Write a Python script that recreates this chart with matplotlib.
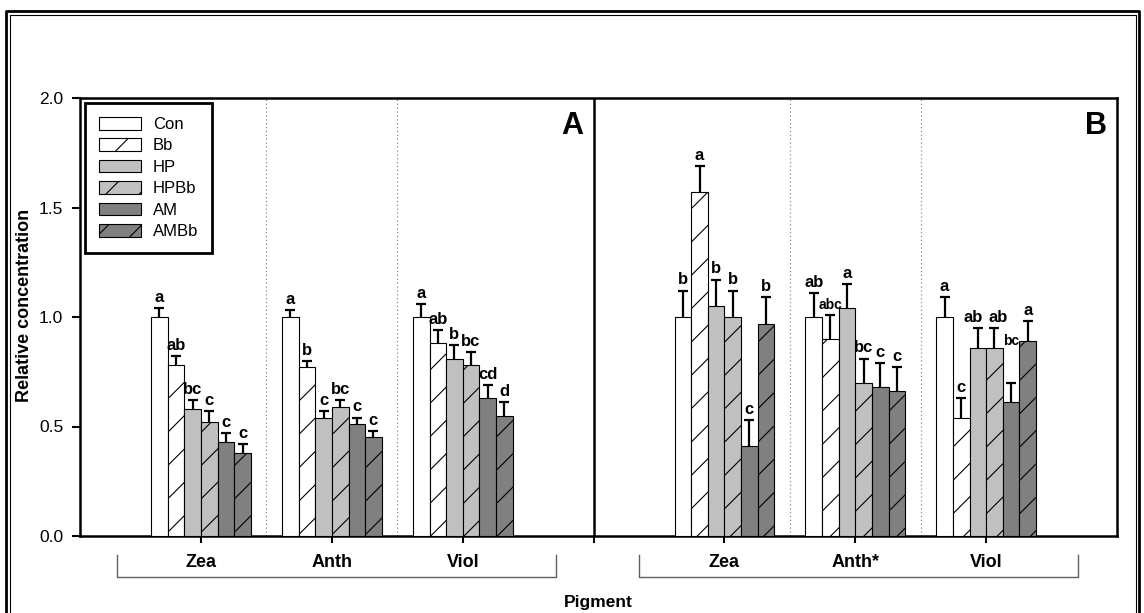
import matplotlib.pyplot as plt
from matplotlib.lines import Line2D
import numpy as np

plt.rcParams['font.family'] = ['Liberation Sans', 'DejaVu Sans']
plt.rcParams['hatch.linewidth'] = 0.8

# pigment groups (A: 1-3, B: 5-7)
categories = ['Zea', 'Anth', 'Viol', 'Zea', 'Anth*', 'Viol']
group_x = [1, 2, 3, 5, 6, 7]
treatments = ['Con', 'Bb', 'HP', 'HPBb', 'AM', 'AMBb']

con = [1.00, 1.00, 1.00, 1.00, 1.00, 1.00]
bb = [0.78, 0.77, 0.88, 1.57, 0.90, 0.54]
hp = [0.58, 0.54, 0.81, 1.05, 1.04, 0.86]
hpbb = [0.52, 0.59, 0.78, 1.00, 0.70, 0.86]
am = [0.43, 0.51, 0.63, 0.41, 0.68, 0.61]
ambb = [0.38, 0.45, 0.55, 0.97, 0.66, 0.89]

con_err = [0.04, 0.03, 0.06, 0.12, 0.11, 0.09]
bb_err = [0.04, 0.03, 0.06, 0.12, 0.11, 0.09]
hp_err = [0.04, 0.03, 0.06, 0.12, 0.11, 0.09]
hpbb_err = [0.05, 0.03, 0.06, 0.12, 0.11, 0.09]
am_err = [0.04, 0.03, 0.06, 0.12, 0.11, 0.09]
ambb_err = [0.04, 0.03, 0.06, 0.12, 0.11, 0.09]

con_let = ['a', 'a', 'a', 'b', 'ab', 'a']
bb_let = ['ab', 'b', 'ab', 'a', 'abc', 'c']
hp_let = ['bc', 'c', 'b', 'b', 'a', 'ab']
hpbb_let = ['c', 'bc', 'bc', 'b', 'bc', 'ab']
am_let = ['c', 'c', 'cd', 'c', 'c', 'bc']
ambb_let = ['c', 'c', 'd', 'b', 'c', 'a']

values = [con, bb, hp, hpbb, am, ambb]
errs = [con_err, bb_err, hp_err, hpbb_err, am_err, ambb_err]
letters = [con_let, bb_let, hp_let, hpbb_let, am_let, ambb_let]
colors = ['white', 'white', '#c0c0c0', '#c0c0c0', '#808080', '#808080']
hatches = [None, '/', None, '/', None, '/']

W, H = 1144, 613
fig = plt.figure(figsize=(W / 100, H / 100), dpi=100)
ax = fig.add_axes([80 / W, 77 / H, 1037 / W, 438 / H])

w = 0.127
x = np.array(group_x, dtype=float)
for i, name in enumerate(treatments):
    xs = x + (i - 2.5) * w
    ax.bar(xs, values[i], w, color=colors[i], edgecolor='black', hatch=hatches[i],
           linewidth=0.8, label=name, zorder=3)
    ax.errorbar(xs, values[i], yerr=errs[i], fmt='none', ecolor='black',
                elinewidth=1.6, capsize=3.4, capthick=1.6, zorder=2)
    for j in range(len(xs)):
        top = values[i][j] + errs[i][j] + 0.015
        lx = xs[j]
        fs = 12
        if (i, j) in [(1, 4), (4, 5)]:
            fs = 10
        if (i, j) == (4, 5):
            top = 0.86
        # the two "ab" over Viol (B) sit a little apart
        if (i, j) == (2, 5):
            lx -= 0.035
        if (i, j) == (3, 5):
            lx += 0.03
        ax.text(lx, top, letters[i][j], ha='center', va='bottom',
                fontsize=fs, fontweight='bold', zorder=5)

# dotted separators and panel divider
for xv in [1.5, 2.5, 5.5, 6.5]:
    ax.axvline(xv, color='#777777', ls=(0, (1, 2.5)), lw=0.8, zorder=1)
ax.axvline(4, color='black', lw=1.8, zorder=4)

ax.text(3.92, 1.94, 'A', ha='right', va='top', fontsize=22, fontweight='bold')
ax.text(7.92, 1.94, 'B', ha='right', va='top', fontsize=22, fontweight='bold')

ax.set_xlim(0.075, 8.0)
ax.set_ylim(0, 2.0)
ax.set_yticks([0.0, 0.5, 1.0, 1.5, 2.0])
ax.set_yticklabels(['0.0', '0.5', '1.0', '1.5', '2.0'])
ax.set_xticks([1, 2, 3, 4, 5, 6, 7])
ax.set_xticklabels([])
ax.tick_params(axis='y', direction='out', length=6, width=1.5, pad=6, labelsize=12.5)
ax.tick_params(axis='x', direction='out', length=5, width=1.5)
for s in ax.spines.values():
    s.set_linewidth(1.8)

for cx, lab in zip(group_x, categories):
    ax.text(cx, -0.119, lab, ha='center', va='center', fontsize=13,
            fontweight='bold', clip_on=False)

# brackets under each panel
for x0, x1 in [(0.358, 3.713), (4.347, 7.702)]:
    ax.plot([x0, x0, x1, x1], [-0.087, -0.187, -0.187, -0.087], color='#606060',
            lw=1.0, clip_on=False)

leg = ax.legend(loc='upper left', bbox_to_anchor=(0.005, 0.989), fontsize=12,
                handlelength=2.5, handleheight=0.78, labelspacing=0.38,
                handletextpad=0.7, borderpad=0.85, borderaxespad=0,
                fancybox=False, framealpha=1, edgecolor='black')
leg.get_frame().set_linewidth(2.0)

fig.text(598 / W, 1 - 602 / H, 'Pigment', ha='center', va='center', fontsize=12.5,
         fontweight='bold')
fig.text(25 / W, 1 - 305 / H, 'Relative concentration', ha='center', va='center',
         rotation=90, fontsize=13, fontweight='bold')

# double border around the figure
def px_line(xp, yp, lw):
    fig.add_artist(Line2D([v / W for v in xp], [1 - v / H for v in yp],
                          transform=fig.transFigure, color='black', lw=lw))

px_line([6, 6, 1139, 1139], [H, 11, 11, H], 2.0)
px_line([9.5, 9.5, 1135.5, 1135.5], [H, 14.5, 14.5, H], 0.8)

fig.savefig('out.png', dpi=100)
